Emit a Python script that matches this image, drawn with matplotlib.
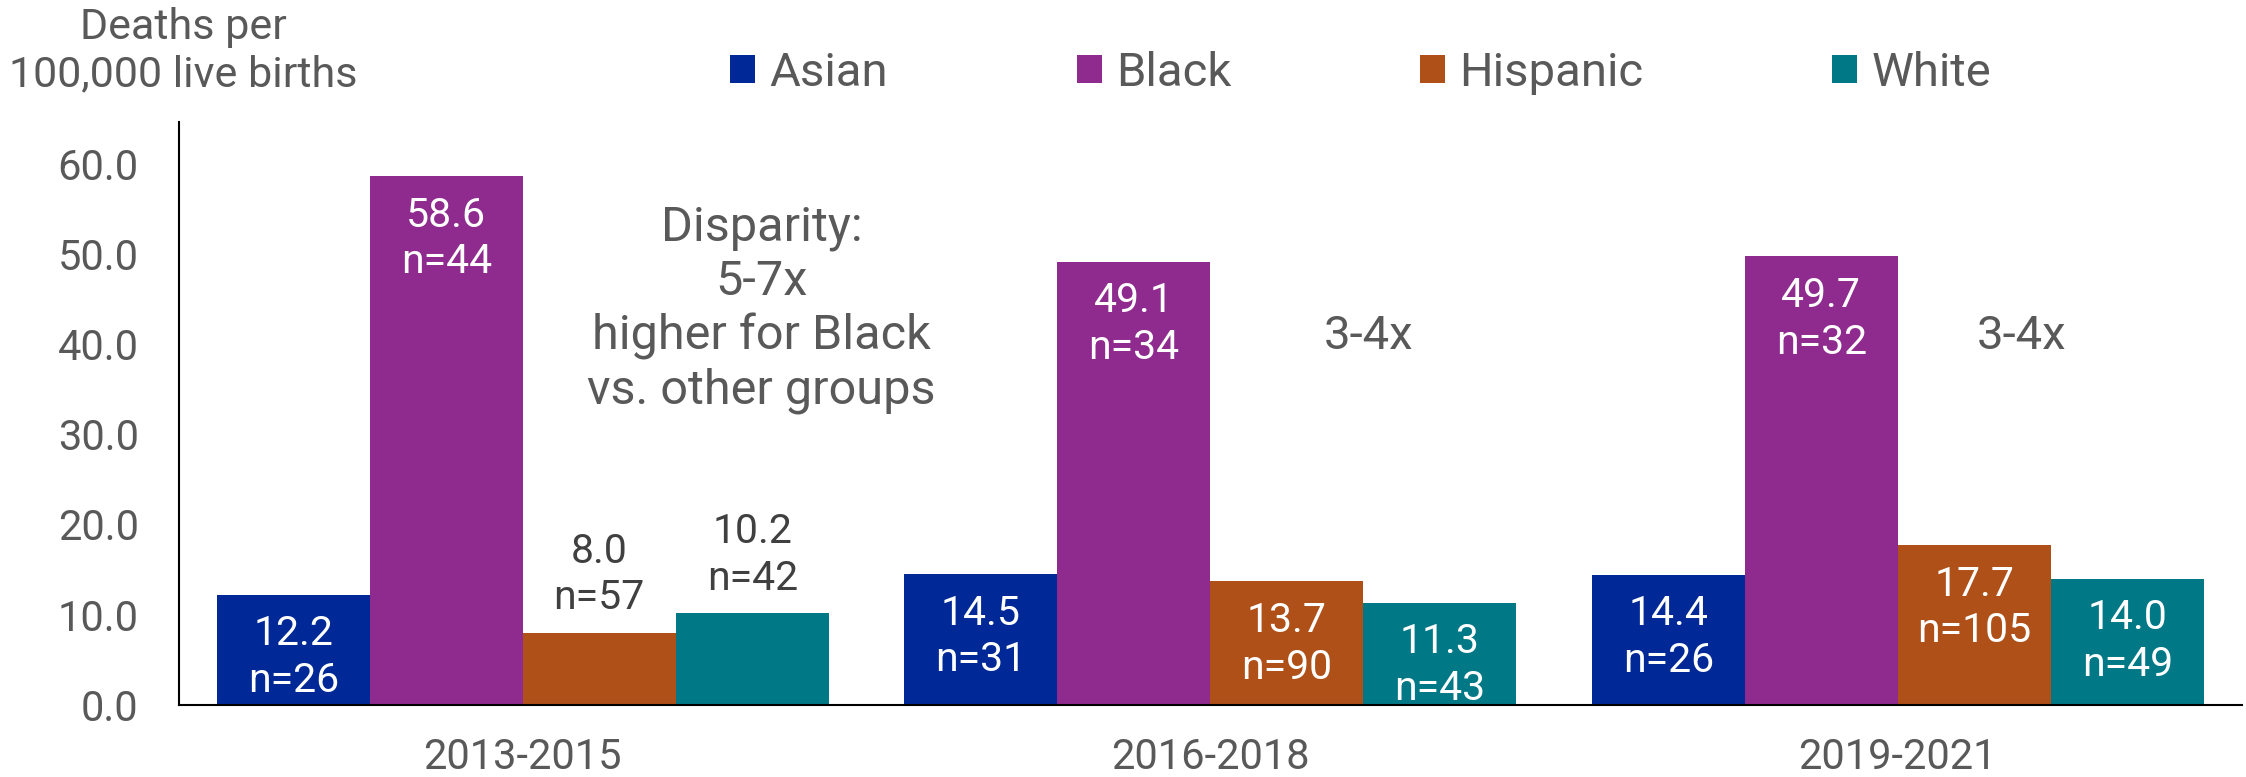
import numpy as np
import matplotlib
matplotlib.use("Agg")
import matplotlib.pyplot as plt

plt.rcParams['font.family'] = ['Roboto', 'DejaVu Sans']

# Maternal mortality rate by race/ethnicity, three-year periods
periods = ["2013-2015", "2016-2018", "2019-2021"]
groups = ["Asian", "Black", "Hispanic", "White"]
asian = [12.2, 14.5, 14.4]
black = [58.6, 49.1, 49.7]
hispanic = [8.0, 13.7, 17.7]
white = [10.2, 11.3, 14.0]
asian_n = [26, 31, 26]
black_n = [44, 34, 32]
hispanic_n = [57, 90, 105]
white_n = [42, 43, 49]

colors = ["#002896", "#8F2A8E", "#AF5019", "#007885"]
grey = "#595959"

rates = [asian, black, hispanic, white]
counts = [asian_n, black_n, hispanic_n, white_n]

fig = plt.figure(figsize=(22.46, 7.77), dpi=100)
ax = fig.add_axes([0.0797, 0.0927, 0.9183, 0.7503])

x = np.arange(len(periods))
width = 0.2225
offsets = (np.arange(len(groups)) - 1.5) * width

for i, (name, vals, ns, c) in enumerate(zip(groups, rates, counts, colors)):
    bars = ax.bar(x + offsets[i], vals, width, color=c, label=name,
                  edgecolor='none')
    for b, v, n in zip(bars, vals, ns):
        cx = b.get_x() + b.get_width() / 2
        txt = f"{v:.1f}\nn={n}"
        if v < 11:
            # too short to hold the label, put it above the bar
            ax.annotate(txt, (cx, v), xytext=(0, 11), textcoords='offset points',
                        ha='center', va='bottom', fontsize=29.5,
                        color="#404040", linespacing=1.25)
        else:
            ax.annotate(txt, (cx, v), xytext=(0, -14), textcoords='offset points',
                        ha='center', va='top', fontsize=29.5,
                        color='white', linespacing=1.25)

ax.set_xlim(-0.5, 2.5)
ax.set_ylim(0, 64.6)
ax.set_yticks(np.arange(0, 61, 10))
ax.set_yticklabels([f"{t:.1f}" for t in np.arange(0, 61, 10)])
ax.set_xticks(x)
ax.set_xticklabels(periods)
ax.tick_params(axis='both', length=0, labelcolor=grey)
ax.tick_params(axis='y', pad=29, labelsize=30)
ax.tick_params(axis='x', pad=23, labelsize=30)

for s in ['top', 'right']:
    ax.spines[s].set_visible(False)
ax.spines['left'].set_color('black')
ax.spines['left'].set_linewidth(1.5)
ax.spines['bottom'].set_color('black')
ax.spines['bottom'].set_linewidth(1.5)

ax.text(0.347, 43.8, "Disparity:\n5-7x\nhigher for Black\nvs. other groups",
        ha='center', va='center', fontsize=35, color=grey, linespacing=1.22)
ax.text(1.23, 40.9, "3-4x", ha='center', va='center', fontsize=34, color=grey)
ax.text(2.18, 40.9, "3-4x", ha='center', va='center', fontsize=34, color=grey)

fig.text(183 / 2246, 1 - 51 / 777, "Deaths per\n100,000 live births",
         ha='center', va='center', fontsize=31, color=grey, linespacing=1.2)

fig.legend(loc='center left', bbox_to_anchor=(730 / 2246, 1 - 73 / 777),
           ncol=4, frameon=False, fontsize=34, labelcolor=grey,
           handlelength=0.53, handleheight=0.53, handletextpad=0.3,
           columnspacing=4.0, borderpad=0, borderaxespad=0)

fig.savefig("out.png", dpi=100)
